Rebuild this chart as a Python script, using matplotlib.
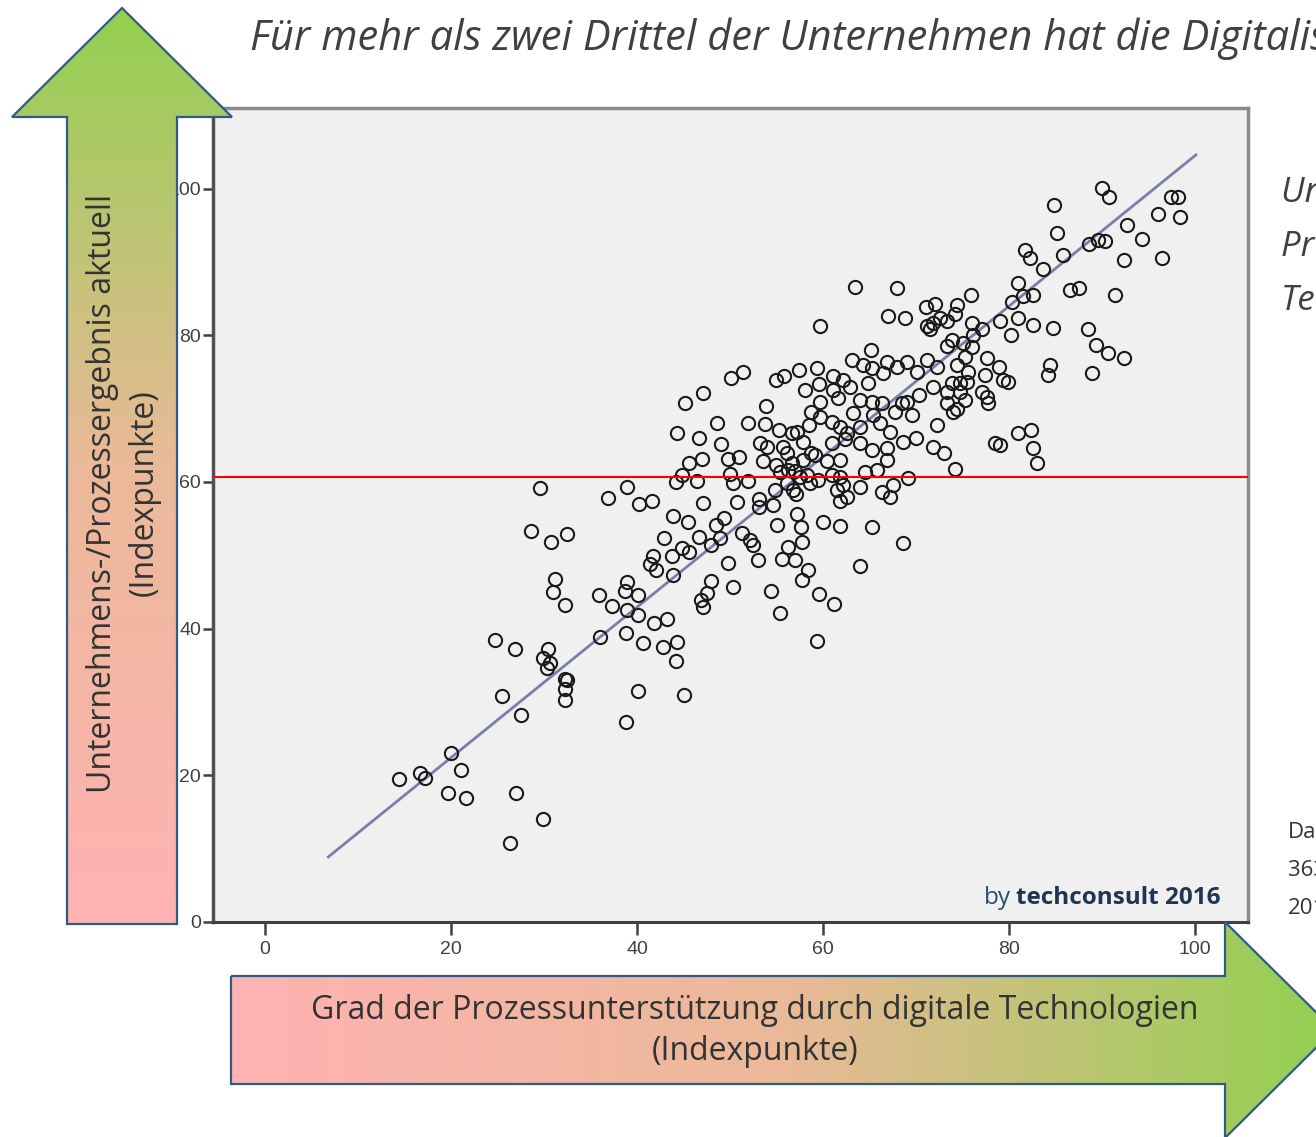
import matplotlib.pyplot as plt
import numpy as np
from matplotlib.patches import Polygon
from matplotlib.colors import LinearSegmentedColormap

# --- data ---
# lower left group
low_x = [29.6, 36.9, 38.9, 40.2, 28.6, 30.8, 32.5, 31.2, 31.0, 32.3,
         35.9, 37.3, 38.9, 38.7, 40.1, 38.9, 40.1, 36.0, 38.8, 40.6,
         24.7, 26.9, 30.4, 29.9, 30.6, 30.3, 32.3, 32.5, 32.3, 32.2,
         25.5, 27.5, 40.1, 38.8, 20.0, 21.1, 14.4, 16.7, 17.2, 19.7,
         21.6, 27.0, 29.9, 26.3]
low_y = [59.2, 57.8, 59.3, 57.0, 53.3, 51.8, 52.9, 46.8, 45.0, 43.2,
         44.6, 43.1, 46.4, 45.2, 44.6, 42.6, 41.9, 38.9, 39.4, 38.1,
         38.5, 37.2, 37.2, 36.0, 35.3, 34.7, 33.2, 33.0, 31.8, 30.3,
         30.8, 28.2, 31.5, 27.3, 23.1, 20.7, 19.5, 20.3, 19.6, 17.6,
         16.9, 17.6, 14.1, 10.8]

# middle group
mid_x = [59.7, 50.1, 51.4, 54.9, 55.8, 57.4, 59.4, 58.1, 59.6, 61.1,
         62.2, 45.2, 47.1, 53.9, 58.7, 59.7, 61.1, 61.6, 44.3, 46.7,
         48.6, 51.9, 53.8, 55.3, 56.7, 57.2, 58.5, 59.7, 61.0, 61.8,
         49.0, 53.2, 54.0, 55.7, 56.1, 57.8, 58.7, 61.0, 62.4, 45.6,
         47.0, 49.8, 51.0, 53.5, 54.9, 56.7, 57.8, 59.1, 60.4, 61.8,
         44.8, 44.2, 46.5, 50.0, 50.3, 51.9, 55.4, 56.2, 57.0, 57.5,
         58.3, 58.6, 59.5, 61.0, 61.8, 56.1, 61.5, 62.2, 41.6, 47.1,
         50.8, 53.1, 53.1, 54.6, 54.8, 56.8, 57.1, 61.8, 43.9, 45.5,
         48.5, 49.4, 51.3, 55.1, 57.2, 57.6, 60.0, 61.8, 42.9, 46.7,
         48.0, 48.9, 52.2, 52.5, 57.7, 56.2, 44.8, 45.6, 41.7, 41.4,
         42.0, 43.8, 43.9, 49.8, 53.0, 55.6, 57.0, 58.4, 57.7, 48.0,
         50.3, 47.5, 46.9, 47.1, 54.4, 59.6, 61.2, 55.4, 43.2, 41.8,
         44.3, 42.8, 59.4, 44.2, 45.1]
mid_y = [81.3, 74.2, 75.0, 73.9, 74.5, 75.3, 75.6, 72.6, 73.3, 74.4,
         73.9, 70.8, 72.2, 70.4, 69.6, 70.9, 72.6, 71.5, 66.7, 66.0,
         68.1, 68.1, 67.9, 67.1, 66.7, 66.8, 67.8, 68.9, 68.2, 67.5,
         65.2, 65.3, 64.8, 64.8, 64.0, 65.5, 64.0, 65.3, 65.8, 62.6,
         63.2, 63.2, 63.4, 62.8, 62.3, 62.6, 63.0, 63.7, 62.8, 63.0,
         61.0, 60.0, 60.2, 61.1, 59.9, 60.2, 61.4, 61.7, 61.5, 60.7,
         61.0, 59.9, 60.3, 61.0, 60.7, 59.9, 58.9, 59.6, 57.4, 57.2,
         57.3, 57.7, 56.6, 56.9, 58.9, 58.9, 58.4, 57.4, 55.3, 54.6,
         54.2, 55.1, 53.1, 54.2, 55.7, 53.8, 54.6, 54.0, 52.4, 52.5,
         51.4, 52.3, 52.1, 51.4, 51.8, 51.2, 51.0, 50.5, 49.9, 48.8,
         48.0, 49.9, 47.3, 49.0, 49.3, 49.5, 49.4, 48.0, 46.7, 46.5,
         45.7, 44.9, 43.9, 43.0, 45.2, 44.7, 43.4, 42.2, 41.3, 40.8,
         38.2, 37.5, 38.3, 35.6, 31.0]

# upper group
up_x = [63.4, 68.0, 75.9, 81.7, 82.3, 81.0, 80.3, 81.5, 82.6, 81.0,
        80.2, 82.6, 79.0, 67.0, 68.8, 71.1, 72.0, 72.6, 71.2, 71.5,
        71.8, 74.4, 74.2, 73.3, 76.0, 77.1, 76.1, 73.9, 73.3, 75.1,
        76.0, 65.2, 63.1, 64.3, 66.9, 68.0, 69.0, 66.5, 65.3, 70.1,
        71.2, 72.3, 74.4, 75.3, 77.6, 78.9, 77.4, 79.4, 79.9, 75.6,
        75.5, 74.7, 73.9, 71.8, 73.3, 74.7, 77.1, 77.6, 77.7, 75.3,
        73.3, 74.0, 74.4, 70.3, 69.0, 69.6, 68.5, 67.7, 66.3, 65.3,
        64.8, 62.9, 64.0, 63.2, 65.4, 66.1, 64.0, 67.2, 68.6, 70.0,
        72.3, 71.8, 73.0, 74.2, 66.9, 65.3, 64.0, 62.6, 66.9, 65.8,
        64.5, 69.1, 67.5, 67.2, 66.3, 64.0, 62.6, 65.3, 81.0, 82.4,
        78.5, 79.0, 82.6, 83.0, 64.0, 68.6]
up_y = [86.6, 86.4, 85.5, 91.7, 90.5, 87.2, 84.6, 85.3, 85.5, 82.4,
        80.1, 81.4, 82.0, 82.7, 82.3, 83.8, 84.3, 82.4, 81.3, 80.8,
        81.7, 84.2, 82.9, 81.9, 81.7, 80.8, 80.1, 79.4, 78.6, 79.0,
        78.4, 78.0, 76.7, 76.0, 76.4, 75.7, 76.4, 74.9, 75.6, 75.0,
        76.7, 75.7, 76.0, 77.1, 76.9, 75.7, 74.6, 73.9, 73.7, 75.0,
        73.7, 73.5, 73.5, 73.0, 72.3, 72.3, 72.3, 71.6, 70.8, 71.2,
        70.8, 69.6, 69.9, 71.9, 70.9, 69.2, 70.8, 69.6, 70.8, 70.9,
        73.5, 73.0, 71.2, 69.4, 69.2, 68.1, 67.5, 66.8, 65.5, 66.0,
        67.8, 64.8, 64.0, 61.8, 64.7, 64.4, 65.3, 66.7, 63.0, 61.7,
        61.3, 60.6, 59.6, 58.0, 58.7, 59.3, 58.0, 53.9, 66.7, 67.1,
        65.3, 65.1, 64.7, 62.6, 48.6, 51.7]

# top right group
top_x = [90.0, 90.8, 84.8, 97.4, 98.2, 96.0, 98.4, 85.2, 92.7, 94.3,
         88.6, 89.6, 90.3, 85.8, 92.4, 96.5, 83.7, 86.6, 87.5, 91.4,
         84.7, 88.5, 89.4, 90.6, 92.4, 84.4, 84.2, 88.9]
top_y = [100.1, 98.9, 97.8, 98.9, 98.9, 96.5, 96.2, 94.0, 95.1, 93.2,
         92.4, 93.0, 92.8, 90.9, 90.3, 90.5, 89.0, 86.2, 86.4, 85.5,
         81.0, 80.9, 78.7, 77.6, 76.9, 76.0, 74.6, 74.9]

# regression line and mean line
fit_x = [6.8, 100.1]
fit_intercept = 1.9
fit_slope = 1.026
mean_y = 60.7

x_ticks = [0, 20, 40, 60, 80, 100]
y_ticks = [0, 20, 40, 60, 80, 100]

W, H = 1316, 1137
fig = plt.figure(figsize=(W / 100, H / 100), dpi=100)

# plot frame
ax = fig.add_axes([213 / W, 1 - 922 / H, (1248 - 213) / W, (922 - 108) / H])
ax.set_facecolor('#f0f0f0')
ax.set_xlim(-5.6, 105.7)
ax.set_ylim(0, 111.0)

xs = low_x + mid_x + up_x + top_x
ys = low_y + mid_y + up_y + top_y
ax.plot(xs, ys, 'o', ms=9.5, mfc='none', mec='#1a1a1a', mew=1.5, zorder=3)

fx = np.array(fit_x)
ax.plot(fx, fit_intercept + fit_slope * fx, color='#7a7fa8', lw=2, zorder=2)
ax.axhline(mean_y, color='red', lw=1.5, zorder=4)

ax.set_xticks(x_ticks)
ax.set_yticks(y_ticks)
ax.tick_params(axis='x', direction='out', length=9.5, width=1.8, color='#404040',
               labelsize=14, labelcolor='#404040', pad=4)
ax.tick_params(axis='y', direction='out', length=7.5, width=1.8, color='#404040',
               labelsize=14, labelcolor='#404040', pad=1)
for lab in ax.get_xticklabels() + ax.get_yticklabels():
    lab.set_fontfamily('Liberation Sans')
for side in ['top', 'right']:
    ax.spines[side].set_color('#8a8a8a')
    ax.spines[side].set_linewidth(2.5)
ax.spines['left'].set_color('#505050')
ax.spines['left'].set_linewidth(2.5)
ax.spines['bottom'].set_color('#404040')
ax.spines['bottom'].set_linewidth(2.2)

# source note inside the plot
t_bold = fig.text(1221 / W, 1 - 898 / H, 'techconsult 2016', ha='right', va='center',
                  fontsize=17.5, fontweight='bold', color='#1f3552', family='Open Sans')
fig.canvas.draw()
bb = t_bold.get_window_extent()
fig.text(bb.x0 / W - 0.004, 1 - 898 / H, 'by', ha='right', va='center',
         fontsize=17.5, color='#2e4a6a', family='Open Sans')

# decoration layer (gradient arrows) in pixel coordinates
deco = fig.add_axes([0, 0, 1, 1], zorder=5)
deco.axis('off')
deco.patch.set_alpha(0)

cmap = LinearSegmentedColormap.from_list('pg', ['#ffb3b3', '#ebb999', '#92d050'])
edge = '#2f5b86'

v_arrow = Polygon([(67, 924), (67, 117), (12, 117), (122, 8), (232, 117),
                   (177, 117), (177, 924)], closed=True, fc='none', ec=edge, lw=1.6,
                  zorder=3)
deco.add_patch(v_arrow)
grad_v = np.linspace(1, 0, 256).reshape(-1, 1)
im = deco.imshow(grad_v, cmap=cmap, extent=[12, 232, 924, 8], aspect='auto',
                 origin='upper', zorder=2, interpolation='bilinear')
im.set_clip_path(v_arrow)

h_arrow = Polygon([(231, 976), (1225, 976), (1225, 922), (1334, 1030), (1225, 1138),
                   (1225, 1084), (231, 1084)], closed=True, fc='none', ec=edge, lw=1.6,
                  zorder=3)
deco.add_patch(h_arrow)
grad_h = np.linspace(0, 1, 256).reshape(1, -1)
im2 = deco.imshow(grad_h, cmap=cmap, extent=[231, 1334, 1138, 922], aspect='auto',
                  origin='upper', zorder=2, interpolation='bilinear')
im2.set_clip_path(h_arrow)
deco.set_xlim(0, W)
deco.set_ylim(H, 0)

deco.text(755, 1031, 'Grad der Prozessunterstützung durch digitale Technologien\n(Indexpunkte)',
          ha='center', va='center', fontsize=23, color='#333333', family='Open Sans',
          linespacing=1.35, zorder=4)
deco.text(123, 493, 'Unternehmens-/Prozessergebnis aktuell\n(Indexpunkte)',
          ha='center', va='center', rotation=90, fontsize=23, color='#333333',
          family='Open Sans', linespacing=1.35, zorder=4)

# slide texts (cut off at the right edge like the reference)
fig.text(250 / W, 1 - 39 / H,
         'Für mehr als zwei Drittel der Unternehmen hat die Digitalisierung',
         ha='left', va='center', fontsize=30, style='italic', color='#404040',
         family='Open Sans')
for i, line in enumerate(['Unternehmen mit hoher', 'Prozessunterstützung durch',
                          'Technologien']):
    fig.text(1281 / W, 1 - (193 + 54 * i) / H, line, ha='left', va='center',
             fontsize=25, style='italic', color='#404040', family='Open Sans')
for i, line in enumerate(['Datenbasis:', '363 Unternehmen', '2016']):
    fig.text(1288 / W, 1 - (832 + 38 * i) / H, line, ha='left', va='center',
             fontsize=16, color='#333333', family='Open Sans')

fig.savefig('out.png', dpi=100)
